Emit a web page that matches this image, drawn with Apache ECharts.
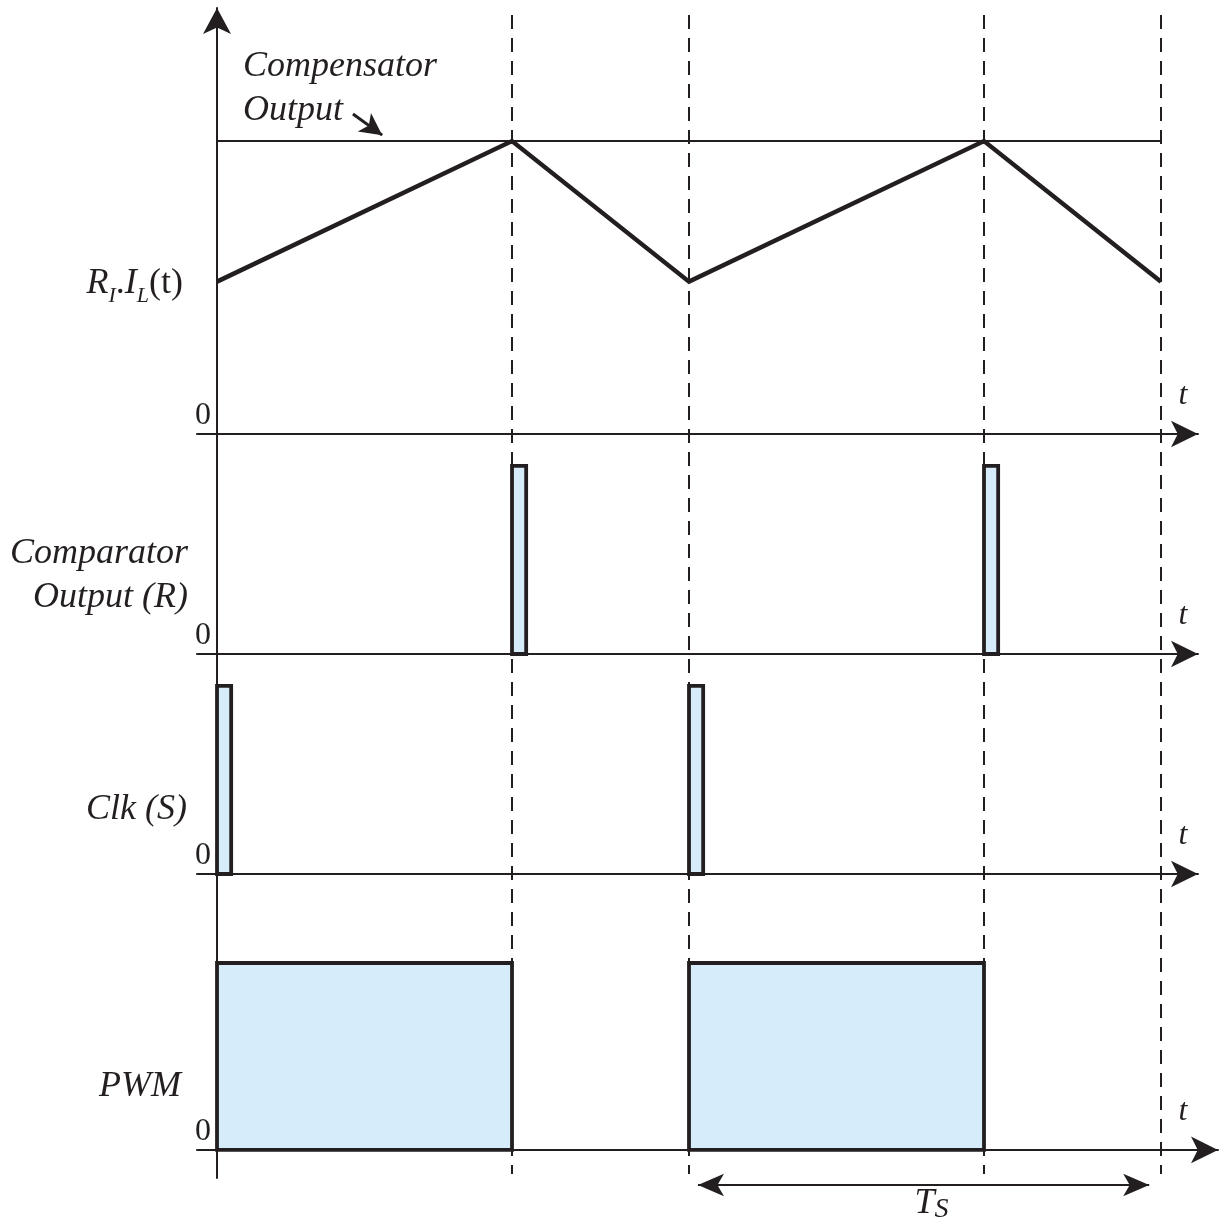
<!DOCTYPE html>
<html>
<head>
<meta charset="utf-8">
<script src="https://cdn.jsdelivr.net/npm/echarts@6/dist/echarts.min.js"></script>
<style>
  html, body { margin: 0; padding: 0; background: #ffffff; }
  #chart { width: 1226px; height: 1225px; }
</style>
</head>
<body>
<div id="chart"></div>
<script>
// Peak current-mode control: one switching period is 1 time unit, duty 0.625.
const ilTimes = [0, 0.625, 1, 1.625, 2];
const ilValues = [0.52, 1.0, 0.52, 1.0, 0.52];
const compTimes = [0, 2];
const compValues = [1.0, 1.0];
const resetPulses = [[0.625, 0.655], [1.625, 1.655]];   // comparator output (R)
const clockPulses = [[0, 0.03], [1, 1.03]];             // clock (S)
const pwmOnIntervals = [[0, 0.625], [1, 1.625]];       // PWM high
const pulseLevel = 1;
const edgeTimes = [0.625, 1, 1.625, 2];                 // dashed guides
const periodSpan = [1, 2];                              // T_S

const FONT = 'Liberation Serif';
const INK = '#231f20';
const FILL = '#d6ecfb';
const T_MIN = -0.0424;
const PX_PER_T = 472;

function rectRender(params, api) {
  const a = api.coord([api.value(0), api.value(2)]);
  const b = api.coord([api.value(1), 0]);
  return {
    type: 'rect',
    shape: { x: a[0], y: a[1], width: b[0] - a[0], height: b[1] - a[1] },
    style: { fill: FILL, stroke: INK, lineWidth: 3.8 }
  };
}
function toRects(list) { return list.map(([s, e]) => [s, e, pulseLevel]); }

// axis end (arrow tip) in pixels for each panel
const axisEnds = [1198, 1198, 1198, 1218];
const tMaxFor = end => (end - 217) / PX_PER_T;

const grids = [
  { left: 197, right: 1226 - axisEnds[0], top: 8, height: 426 },
  { left: 197, right: 1226 - axisEnds[1], top: 434, height: 220 },
  { left: 197, right: 1226 - axisEnds[2], top: 654, height: 220 },
  { left: 197, right: 1226 - axisEnds[3], top: 874, height: 304 },
  { left: 197, right: 1226 - axisEnds[0], top: 0, height: 1225 }
];

function timeAxis(i) {
  return {
    type: 'value', gridIndex: i, min: T_MIN, max: tMaxFor(axisEnds[i]),
    splitLine: { show: false }, axisTick: { show: false }, axisLabel: { show: false },
    axisLine: { show: true, onZero: true, symbol: ['none', 'arrow'], symbolSize: [20, 27],
      lineStyle: { color: INK, width: 2 } },
    name: 't', nameLocation: 'end', nameGap: 1183 - axisEnds[i],
    nameTextStyle: { fontFamily: FONT, fontStyle: 'italic', fontSize: 32, color: INK,
      align: 'center', verticalAlign: 'bottom', padding: [0, 0, 22, 0] }
  };
}
function levelAxis(i, min, max, arrow) {
  return {
    type: 'value', gridIndex: i, min: min, max: max,
    splitLine: { show: false }, axisTick: { show: false },
    axisLine: { show: true, onZero: true, symbol: arrow ? ['none', 'arrow'] : 'none',
      symbolSize: [21, 26], lineStyle: { color: INK, width: 2 } },
    axisLabel: { show: true, customValues: [0], formatter: v => (v === 0 ? '0' : ''),
      fontFamily: FONT, fontSize: 32, color: INK, margin: -14,
      verticalAlign: 'bottom', lineHeight: 32, padding: [0, 0, 2, 0] }
  };
}

const xAxes = [0, 1, 2, 3].map(timeAxis);
xAxes.push({ type: 'value', gridIndex: 4, min: T_MIN, max: tMaxFor(axisEnds[0]), show: false });
const yAxes = [
  levelAxis(0, 0, 1.454, true),
  levelAxis(1, 0, 1.170, false),
  levelAxis(2, 0, 1.170, false),
  levelAxis(3, -0.150, 1.476, false),
  { type: 'value', gridIndex: 4, min: 0, max: 1225, inverse: true, show: false }
];

const option = {
  animation: false,
  backgroundColor: '#ffffff',
  grid: grids,
  xAxis: xAxes,
  yAxis: yAxes,
  series: [
    {
      name: 'Compensator Output', type: 'line', xAxisIndex: 0, yAxisIndex: 0,
      data: compTimes.map((t, i) => [t, compValues[i]]),
      showSymbol: false, silent: true,
      lineStyle: { color: INK, width: 2 },
      markLine: {
        silent: true, symbol: ['none', 'arrow'], symbolSize: [17, 22],
        label: { show: false },
        lineStyle: { color: INK, width: 3, type: 'solid' },
        data: [[{ coord: [0.288, 1.092] }, { coord: [0.350, 1.020] }]]
      }
    },
    {
      name: 'RI.IL', type: 'line', xAxisIndex: 0, yAxisIndex: 0,
      data: ilTimes.map((t, i) => [t, ilValues[i]]),
      showSymbol: false, silent: true,
      lineStyle: { color: INK, width: 4.5, join: 'miter' }
    },
    {
      name: 'Comparator Output (R)', type: 'custom', xAxisIndex: 1, yAxisIndex: 1,
      renderItem: rectRender, encode: { x: [0, 1], y: 2 }, clip: false,
      data: toRects(resetPulses), silent: true
    },
    {
      name: 'Clk (S)', type: 'custom', xAxisIndex: 2, yAxisIndex: 2,
      renderItem: rectRender, encode: { x: [0, 1], y: 2 }, clip: false,
      data: toRects(clockPulses), silent: true
    },
    {
      name: 'PWM', type: 'custom', xAxisIndex: 3, yAxisIndex: 3,
      renderItem: rectRender, encode: { x: [0, 1], y: 2 }, clip: false,
      data: toRects(pwmOnIntervals), silent: true
    },
    {
      name: 'guides', type: 'line', xAxisIndex: 4, yAxisIndex: 4,
      data: [], silent: true,
      markLine: {
        silent: true, symbol: 'none', animation: false,
        label: { show: false },
        lineStyle: { color: INK, width: 2, type: [14, 9] },
        data: edgeTimes.map(t => [{ coord: [t, 15] }, { coord: [t, 1174] }])
      }
    },
    {
      name: 'period', type: 'line', xAxisIndex: 4, yAxisIndex: 4,
      data: [], silent: true,
      markLine: {
        silent: true, symbol: ['arrow', 'arrow'], symbolSize: [17, 26], animation: false,
        lineStyle: { color: INK, width: 2, type: 'solid' },
        label: {
          show: true, position: 'insideMiddleBottom', distance: 2,
          formatter: '{t|T}{s|S}',
          rich: {
            t: { fontFamily: FONT, fontStyle: 'italic', fontSize: 36, color: INK, lineHeight: 34, padding: [0, 0, 0, 16] },
            s: { fontFamily: FONT, fontStyle: 'italic', fontSize: 28, color: INK, lineHeight: 24, padding: [12, 0, 0, 0] }
          }
        },
        data: [[{ coord: [periodSpan[0] + 0.019, 1185] }, { coord: [periodSpan[1] - 0.025, 1185] }]]
      }
    }
  ],
  graphic: [
    { type: 'text', x: 243, y: 89, silent: true,
      style: { text: 'Compensator\nOutput', font: 'italic 36px "Liberation Serif"', fill: INK,
        lineHeight: 44, align: 'left', textAlign: 'left', verticalAlign: 'middle', textVerticalAlign: 'middle' } },
    { type: 'text', x: 183, y: 284, silent: true,
      style: {
        text: '{m|R}{s|I}{u|.}{m|I}{s|L}{u|(t)}',
        align: 'right', textAlign: 'right', verticalAlign: 'middle', textVerticalAlign: 'middle',
        rich: {
          m: { fontFamily: FONT, fontStyle: 'italic', fontSize: 36, fill: INK, color: INK, lineHeight: 44 },
          u: { fontFamily: FONT, fontSize: 36, fill: INK, color: INK, lineHeight: 44 },
          s: { fontFamily: FONT, fontStyle: 'italic', fontSize: 22, fill: INK, color: INK, lineHeight: 22, padding: [24, 0, 0, 0] }
        }
      } },
    { type: 'text', x: 188, y: 576, silent: true,
      style: { text: 'Comparator\nOutput (R)', font: 'italic 36px "Liberation Serif"', fill: INK,
        lineHeight: 44, align: 'right', textAlign: 'right', verticalAlign: 'middle', textVerticalAlign: 'middle' } },
    { type: 'text', x: 187, y: 810, silent: true,
      style: { text: 'Clk (S)', font: 'italic 36px "Liberation Serif"', fill: INK,
        align: 'right', textAlign: 'right', verticalAlign: 'middle', textVerticalAlign: 'middle' } },
    { type: 'text', x: 181, y: 1087, silent: true,
      style: { text: 'PWM', font: 'italic 36px "Liberation Serif"', fill: INK,
        align: 'right', textAlign: 'right', verticalAlign: 'middle', textVerticalAlign: 'middle' } }
  ]
};

const chart = echarts.init(document.getElementById('chart'), null, { renderer: 'canvas' });
chart.setOption(option);
</script>
</body>
</html>
